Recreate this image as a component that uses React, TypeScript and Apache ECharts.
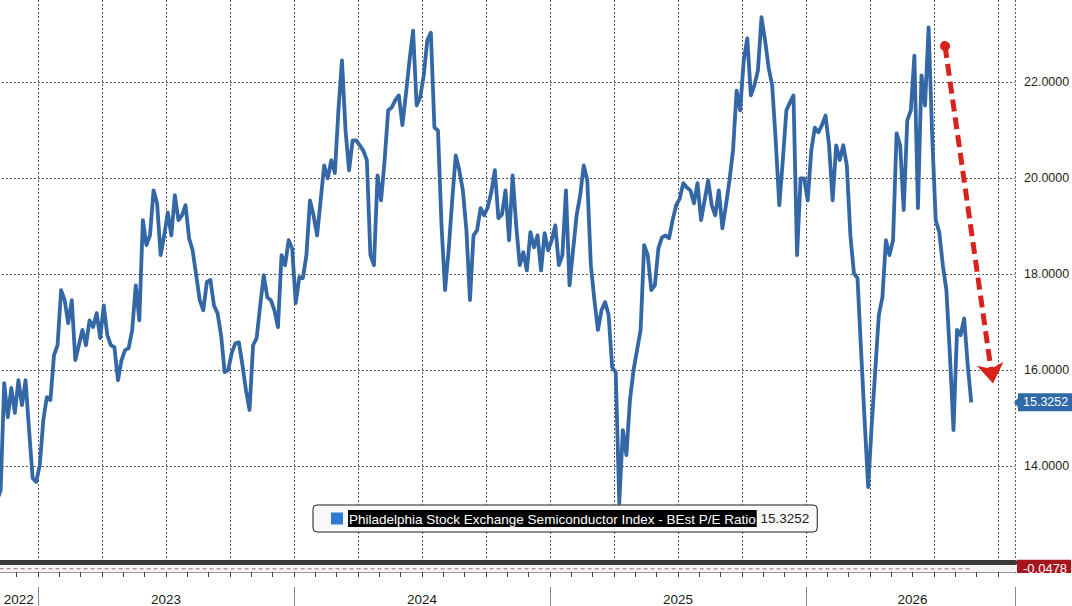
import { useEffect, useRef } from "react";
import * as echarts from "echarts";

const SERIES_NAME = "Philadelphia Stock Exchange Semiconductor Index - BEst P/E Ratio";
const LAST_VALUE = 15.3252;
const LOWER_LAST = -0.0478;
const READINGS_PER_MONTH = 6;

// BEst P/E readings, six per month
const pe2022 = [
  [13.29, 13.5, 15.73, 15.02, 15.63, 15.11], // Nov
  [15.79, 15.27, 15.79, 14.75, 13.75, 13.67], // Dec
];
const pe2023 = [
  [14.02, 14.96, 15.44, 15.38, 16.31, 16.52],
  [17.67, 17.46, 16.98, 17.46, 16.21, 16.52],
  [16.84, 16.52, 17.04, 16.9, 17.19, 16.67],
  [17.35, 16.73, 16.52, 16.48, 15.79, 16.21],
  [16.42, 16.46, 16.84, 17.77, 17.04, 19.13],
  [18.61, 18.81, 19.75, 19.48, 18.4, 18.81],
  [19.29, 18.81, 19.65, 19.13, 19.23, 19.44],
  [18.75, 18.5, 17.98, 17.46, 17.25, 17.84],
  [17.88, 17.35, 17.19, 16.73, 15.96, 16.0],
  [16.36, 16.56, 16.58, 16.11, 15.58, 15.17],
  [16.52, 16.67, 17.35, 17.98, 17.52, 17.46],
  [17.25, 16.9, 18.4, 18.19, 18.71, 18.54],
];
const pe2024 = [
  [17.4, 17.94, 17.92, 18.4, 19.54, 19.23],
  [18.81, 19.54, 20.27, 20.0, 20.38, 20.11],
  [21.42, 22.46, 21.0, 20.17, 20.79, 20.79],
  [20.69, 20.58, 20.38, 18.4, 18.19, 20.06],
  [19.54, 20.38, 21.42, 21.48, 21.63, 21.73],
  [21.11, 21.77, 22.46, 23.08, 21.52, 21.69],
  [22.15, 22.88, 23.04, 21.06, 21.0, 19.02],
  [17.67, 18.5, 19.54, 20.48, 20.17, 19.75],
  [18.92, 17.46, 18.81, 18.92, 19.38, 19.23],
  [19.4, 19.71, 20.17, 19.17, 19.25, 19.75],
  [18.71, 20.06, 19.02, 18.19, 18.46, 18.08],
  [18.88, 18.56, 18.81, 18.08, 18.86, 18.5],
];
const pe2025 = [
  [18.71, 19.02, 18.19, 18.4, 19.75, 17.77],
  [18.5, 19.23, 19.65, 20.27, 19.96, 18.19],
  [17.46, 16.84, 17.25, 17.42, 17.15, 16.06],
  [15.96, 13.23, 14.75, 14.23, 15.38, 16.0],
  [16.42, 16.84, 18.61, 18.4, 17.67, 17.77],
  [18.54, 18.77, 18.81, 18.75, 19.13, 19.44],
  [19.58, 19.9, 19.81, 19.75, 19.48, 19.9],
  [19.13, 19.54, 19.96, 19.44, 19.23, 19.75],
  [18.96, 19.44, 19.96, 20.59, 21.83, 21.42],
  [22.46, 22.92, 21.73, 21.94, 22.25, 23.36],
  [22.88, 22.31, 21.94, 20.79, 19.44, 20.38],
  [21.42, 21.58, 21.73, 18.4, 20.0, 20.0],
];
const pe2026 = [
  [19.54, 20.58, 21.06, 20.96, 21.11, 21.31],
  [20.69, 19.54, 20.69, 20.38, 20.69, 20.27],
  [18.81, 18.02, 17.92, 16.42, 14.96, 13.56],
  [14.86, 16.0, 17.15, 17.52, 18.71, 18.4],
  [18.71, 20.94, 20.69, 19.34, 21.21, 21.42],
  [22.56, 19.38, 22.15, 21.52, 23.15, 20.9],
  [19.13, 18.88, 18.19, 17.67, 16.31, 14.75],
  [16.84, 16.73, 17.08, 16.11, LAST_VALUE],
];
const peYears = [
  { year: 2022, firstMonth: 11, months: pe2022 },
  { year: 2023, firstMonth: 1, months: pe2023 },
  { year: 2024, firstMonth: 1, months: pe2024 },
  { year: 2025, firstMonth: 1, months: pe2025 },
  { year: 2026, firstMonth: 1, months: pe2026 },
];

// lower (spread) panel
const lowerPanelMonths = [10.2, 22, 34, 46, 55.7];
const lowerPanelValues = [-0.03, -0.05, -0.04, -0.05, LOWER_LAST];

// axis texts (x in months since Jan 2022)
const yearLabels = ["2022", "2023", "2024", "2025", "2026"];
const yearLabelAt = [11.1, 18, 30, 42, 53];
const X_MIN = 0;
const X_MAX = 57.8;
const Y_MIN = 12;
const Y_MAX = 23.72;

// red annotation arrow [month, P/E]
const arrowFrom = [54.52, 22.76];
const arrowTo = [56.77, 15.72];

const FONT = "'Liberation Sans', Arial, sans-serif";

export default function App() {
  const ref = useRef<HTMLDivElement>(null);

  useEffect(() => {
    if (!ref.current) return;
    const chart = echarts.init(ref.current, undefined, { renderer: "svg" });

    const peData: number[][] = [];
    peYears.forEach(({ year, firstMonth, months }) => {
      months.forEach((vals, j) => {
        vals.forEach((v, i) => {
          peData.push([(year - 2022) * 12 + (firstMonth - 1) + j + (i + 0.5) / READINGS_PER_MONTH, v]);
        });
      });
    });
    const lowerData = lowerPanelMonths.map((m, i) => [m, lowerPanelValues[i]]);

    const axisColor = "#4a6078";
    const gridDash = { color: "#555", width: 1, type: [2, 2] };

    chart.setOption({
      animation: false,
      backgroundColor: "#ffffff",
      textStyle: { fontFamily: FONT },
      grid: [
        { left: -218, right: 57, top: 0, bottom: 44, outerBoundsMode: "none", containLabel: false },
        {
          left: -218, right: 57, top: 565, height: 7, show: true, backgroundColor: "#f6f3f3", borderWidth: 0,
          outerBoundsMode: "none", containLabel: false,
        },
      ],
      legend: {
        data: [{ name: SERIES_NAME, icon: "rect", itemStyle: { color: "#2f7bd4" } }],
        left: 313,
        top: 505,
        padding: [5, 8, 5, 18],
        itemWidth: 12,
        itemHeight: 12,
        backgroundColor: "#f9f9f9",
        borderColor: "#1c1c1c",
        borderWidth: 1,
        borderRadius: 4,
        selectedMode: false,
        formatter: (name: string) => `{n|${name}}{v| ${LAST_VALUE.toFixed(4)}}`,
        textStyle: {
          fontFamily: FONT,
          fontSize: 13.5,
          rich: {
            n: { backgroundColor: "#000", color: "#fff", padding: [2, 1, 1, 1], fontSize: 13.5, fontFamily: FONT },
            v: { color: "#1a1a1a", fontSize: 13.5, fontFamily: FONT },
          },
        },
      },
      xAxis: [
        {
          gridIndex: 0, type: "value", position: "bottom", min: X_MIN, max: X_MAX, interval: 3,
          axisLine: { show: true, onZero: false, lineStyle: { color: "#3a3a3a", width: 5 } },
          axisTick: { show: false }, axisLabel: { show: false },
          splitLine: { show: true, lineStyle: gridDash },
        },
        {
          gridIndex: 1, type: "value", position: "bottom", min: X_MIN, max: X_MAX, interval: 1,
          axisLine: { show: true, onZero: false, lineStyle: { color: "#9a9a9a", width: 1 } },
          axisTick: { show: true, length: 5, lineStyle: { color: "#444" } },
          axisLabel: { show: false }, splitLine: { show: false },
        },
        {
          gridIndex: 1, type: "value", position: "bottom", min: X_MIN, max: X_MAX, interval: 12, offset: 15,
          axisLine: { show: false, onZero: false },
          axisTick: { show: true, length: 20, lineStyle: { color: "#8a8a8a" } },
          axisLabel: { show: false }, splitLine: { show: false },
        },
        {
          gridIndex: 1, type: "value", position: "bottom", min: X_MIN, max: X_MAX,
          axisLine: { show: false, onZero: false }, axisTick: { show: false }, splitLine: { show: false },
          axisLabel: {
            show: true,
            customValues: yearLabelAt,
            formatter: (v: number) => {
              const idx = yearLabelAt.findIndex((p) => Math.abs(p - v) < 1e-6);
              return idx >= 0 ? yearLabels[idx] : "";
            },
            margin: 20, fontSize: 13.5, color: "#1a1a1a", fontFamily: FONT,
          },
        },
      ],
      yAxis: [
        {
          gridIndex: 0, type: "value", position: "right", min: Y_MIN, max: Y_MAX, interval: 2,
          axisLine: { show: true, lineStyle: { color: axisColor, width: 1.5 } },
          axisTick: { show: true, length: 6, lineStyle: { color: axisColor, width: 2 } },
          minorTick: { show: true, splitNumber: 2, length: 4, lineStyle: { color: axisColor } },
          axisLabel: {
            show: true, showMinLabel: false, showMaxLabel: false,
            formatter: (v: number) => v.toFixed(4),
            margin: 9, fontSize: 12.5, color: "#1e1e1e", fontFamily: FONT,
          },
          splitLine: { show: true, showMaxLine: false, lineStyle: gridDash },
        },
        { gridIndex: 1, type: "value", position: "right", min: -0.5, max: 0.5, show: false },
      ],
      graphic: [
        { type: "rect", left: 320, top: 516, shape: { width: 7, height: 7 }, style: { fill: "#fff", stroke: "#888", lineWidth: 1 } },
        // the lower panel clips its value tag
        { type: "rect", left: 1014, top: 573, z: 100, shape: { width: 58, height: 12 }, style: { fill: "#fff" } },
      ],
      series: [
        {
          name: SERIES_NAME, type: "line", xAxisIndex: 0, yAxisIndex: 0,
          data: peData, symbol: "none", showSymbol: false,
          lineStyle: { color: "#3367a6", width: 3.8, join: "round" },
          itemStyle: { color: "#3367a6" },
          markLine: {
            silent: true, symbol: ["none", "none"], animation: false,
            data: [
              {
                yAxis: LAST_VALUE,
                lineStyle: { width: 0, color: "rgba(0,0,0,0)" },
                label: {
                  show: true, position: "end", distance: 3, formatter: LAST_VALUE.toFixed(4),
                  color: "#fff", backgroundColor: "#2f69a8", padding: [3, 5, 2, 5], fontSize: 12.5, fontFamily: FONT,
                },
              },
              [
                {
                  coord: arrowFrom, symbol: "circle", symbolSize: 10,
                  lineStyle: { color: "#d8231c", width: 5, type: [12, 6] }, label: { show: false },
                },
                { coord: arrowTo, symbol: "arrow", symbolSize: [20, 20] },
              ],
            ],
          },
          markPoint: {
            silent: true,
            data: [
              {
                coord: [X_MAX, LAST_VALUE], symbol: "triangle", symbolSize: [18, 8], symbolRotate: 90,
                symbolOffset: [3, 0], itemStyle: { color: "#2f69a8" }, label: { show: false },
              },
            ],
          },
        },
        {
          type: "line", xAxisIndex: 1, yAxisIndex: 1, data: lowerData, symbol: "none",
          lineStyle: { color: "#9a7070", width: 1, type: [4, 3] },
          markLine: {
            silent: true, symbol: ["none", "none"],
            data: [
              {
                yAxis: LOWER_LAST, lineStyle: { width: 0, color: "rgba(0,0,0,0)" },
                label: {
                  show: true, position: "end", distance: 2, formatter: LOWER_LAST.toFixed(4),
                  color: "#fff", backgroundColor: "#a5151b", padding: [3, 4, 2, 6], fontSize: 13, fontFamily: FONT,
                },
              },
            ],
          },
        },
      ],
    });

    return () => chart.dispose();
  }, []);

  return (
    <div
      ref={ref}
      style={{ position: "fixed", left: 0, top: 0, width: 1072, height: 606, overflow: "hidden", background: "#fff" }}
    />
  );
}
